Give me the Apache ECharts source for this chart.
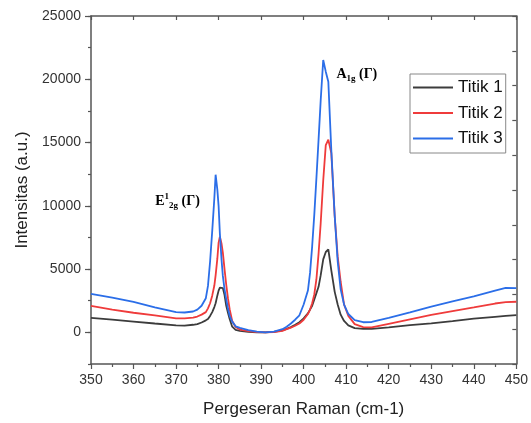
<!DOCTYPE html>
<html>
<head>
<meta charset="utf-8">
<script src="https://cdn.jsdelivr.net/npm/echarts@6/dist/echarts.min.js"></script>
<style>html,body{margin:0;padding:0;background:#fff}#c{width:531px;height:423px}</style>
</head>
<body>
<div id="c"></div>
<script>
// Raman shift (cm-1)
const shift = [350,355,360,365,370,372,374,375,376,377,377.5,378,378.5,379,379.3,379.7,380,380.3,380.7,381,381.4,381.8,382.2,382.6,383.2,384,385,387,389,391,393,395,396,397,398,399,400,401,401.5,402,402.5,403,403.5,404,404.6,405.2,405.8,406.5,407.3,408,408.7,409.5,410.5,412,414,416,420,425,430,435,440,445,447.5,450];
const titik1 = [1150,1000,850,700,560,540,600,650,780,950,1050,1300,1600,2000,2300,2900,3300,3540,3670,3500,2950,2100,1550,1050,450,200,120,50,10,0,40,150,280,420,600,800,1100,1500,1800,2100,2600,3100,3600,4500,5770,6350,6550,4900,3200,2200,1400,900,550,330,270,280,400,570,710,880,1080,1230,1300,1370];
const titik2 = [2100,1800,1550,1350,1100,1100,1170,1250,1400,1600,1900,2300,2900,3700,4500,5800,7090,7560,7000,6300,4980,3750,2700,1830,900,420,220,100,30,0,30,120,250,380,520,700,1000,1450,1800,2300,3000,4200,6200,8600,12000,14800,15220,14170,9180,6000,4000,2200,1300,650,420,400,680,1030,1380,1680,1970,2280,2390,2420];
const titik3 = [3050,2750,2400,1980,1600,1570,1650,1800,2100,2700,3670,5600,8000,10600,12460,11300,10000,7800,5700,4460,3400,2620,1900,1310,850,480,350,180,60,0,60,250,450,700,1000,1350,2200,3300,4700,6800,9300,12200,15200,18300,21520,20600,19810,14400,9200,5600,3400,2200,1450,960,800,820,1150,1580,2030,2450,2850,3300,3520,3500];
const seriesNames = ['Titik 1','Titik 2','Titik 3'];
const yLabels = [0,5000,10000,15000,20000,25000];

const colors = ['#3c3c3c','#ef3b3b','#2b6ee8'];
const axisColor = '#555';
const pair = arr => shift.map((x,i)=>[x,arr[i]]);

const chart = echarts.init(document.getElementById('c'), null, {renderer:'canvas'});
const option = {
  animation:false,
  backgroundColor:'#fff',
  grid:{left:91,right:9,top:16,bottom:58,containLabel:false},
  legend:{
    orient:'vertical', left:410, top:74,
    data:seriesNames.map(n=>({name:n, icon:'rect'})),
    backgroundColor:'#fff', borderColor:'#888', borderWidth:1,
    padding:[5,3,6,3], itemGap:8.5, itemWidth:40, itemHeight:2,
    textStyle:{fontFamily:'Liberation Sans, Arial, sans-serif', fontSize:17, color:'#111', lineHeight:14}
  },
  xAxis:[
    {type:'value', min:350, max:450, interval:10, position:'bottom',
     name:'Pergeseran Raman (cm-1)', nameLocation:'middle', nameGap:37,
     nameTextStyle:{fontFamily:'Liberation Sans, Arial, sans-serif', fontSize:17, color:'#222'},
     axisLine:{show:true, onZero:false, lineStyle:{color:axisColor, width:1.5}},
     axisTick:{show:true, inside:false, length:5, lineStyle:{color:axisColor, width:1.2}},
     minorTick:{show:true, splitNumber:2, length:3, lineStyle:{color:axisColor, width:1.2}},
     axisLabel:{fontFamily:'Liberation Sans, Arial, sans-serif', fontSize:14, color:'#333', margin:9},
     splitLine:{show:false}},
    {type:'value', min:350, max:450, interval:10, position:'top',
     axisLine:{show:true, onZero:false, lineStyle:{color:axisColor, width:1.5}},
     axisTick:{show:true, inside:true, length:4, lineStyle:{color:axisColor, width:1.2}},
     axisLabel:{show:false}, splitLine:{show:false}}
  ],
  yAxis:[
    {type:'value', min:-2500, max:25000, interval:2500, position:'left',
     name:'Intensitas (a.u.)', nameLocation:'middle', nameGap:54,
     nameTextStyle:{fontFamily:'Liberation Sans, Arial, sans-serif', fontSize:17, color:'#222'},
     axisLine:{show:true, onZero:false, lineStyle:{color:axisColor, width:1.5}},
     axisTick:{show:true, inside:false, length:6, customValues:yLabels, lineStyle:{color:axisColor, width:1.2}},
     axisLabel:{customValues:yLabels, formatter:v=>String(v), fontFamily:'Liberation Sans, Arial, sans-serif', fontSize:14, color:'#333', margin:10},
     splitLine:{show:false}},
    {type:'value', min:-2500, max:25000, interval:2500, position:'left',
     axisLine:{show:false},
     axisTick:{show:true, inside:false, length:3, lineStyle:{color:axisColor, width:1.2}},
     axisLabel:{show:false}, splitLine:{show:false}},
    {type:'value', min:0, max:10, interval:1, position:'right',
     axisLine:{show:true, onZero:false, lineStyle:{color:axisColor, width:1.5}},
     axisTick:{show:true, inside:true, length:4, lineStyle:{color:axisColor, width:1.2}},
     axisLabel:{show:false}, splitLine:{show:false}}
  ],
  series:[titik1,titik2,titik3].map((arr,i)=>({
    name:seriesNames[i], type:'line', data:pair(arr), xAxisIndex:0, yAxisIndex:0,
    showSymbol:false, symbol:'none', smooth:false,
    lineStyle:{color:colors[i], width:1.8}, itemStyle:{color:colors[i]}
  }))
};
chart.setOption(option);

// Peak annotations (text anchored at data coordinates)
const serif = 'Liberation Serif, Times New Roman, serif';
const rich = {
  b:{fontFamily:serif, fontWeight:'bold', fontSize:14, color:'#222', lineHeight:18, verticalAlign:'middle'},
  sub:{fontFamily:serif, fontWeight:'bold', fontSize:9, color:'#222', lineHeight:18, verticalAlign:'bottom'},
  sup:{fontFamily:serif, fontWeight:'bold', fontSize:9, color:'#222', lineHeight:18, verticalAlign:'top'}
};
const pA = chart.convertToPixel({xAxisIndex:0, yAxisIndex:0}, [407.7, 20250]);
const pE = chart.convertToPixel({xAxisIndex:0, yAxisIndex:0}, [365.1, 10350]);
chart.setOption({graphic:[
  {type:'text', left:pA[0], top:pA[1]-9, style:{text:'{b|A}{sub|1g}{b| (Γ)}', rich:rich}},
  {type:'text', left:pE[0], top:pE[1]-9, style:{text:'{b|E}{sup|1}{sub|2g}{b| (Γ)}', rich:rich}}
]});
</script>
</body>
</html>
